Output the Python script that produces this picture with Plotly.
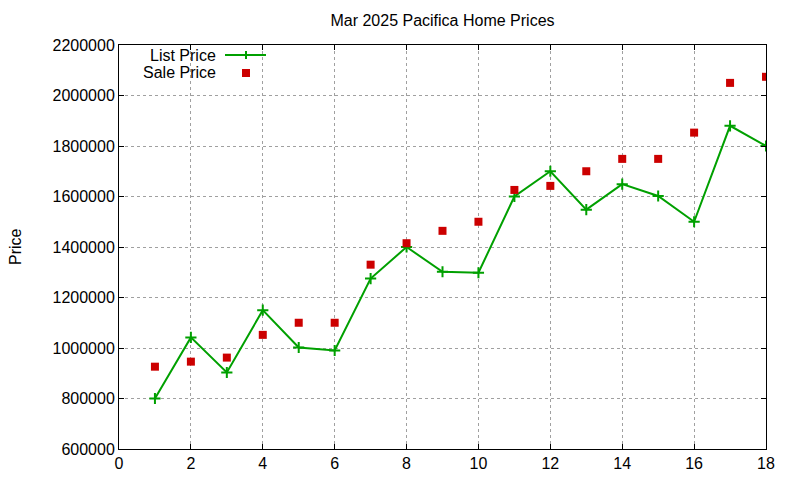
import plotly.graph_objects as go

# data
months = list(range(1, 19))
list_price = [800000, 1042000, 903000, 1150000, 1002000, 990000, 1275000, 1400000, 1302000,
              1298000, 1600000, 1700000, 1548000, 1649000, 1602000, 1500000, 1880000, 1800000]
sale_price = [926000, 946000, 962000, 1052000, 1100000, 1100000, 1330000, 1415000, 1464000,
              1500000, 1626000, 1642000, 1700000, 1749000, 1749000, 1853000, 2050000, 2074000]

x_ticks = list(range(0, 20, 2))
y_ticks = list(range(600000, 2200001, 200000))

GREEN = "#00a000"
RED = "#cc0000"
FONT = "Liberation Sans, Arial, sans-serif"

# the page body has an 8px margin, so the figure is drawn 8px in from the top-left
OFF = 8
W, H = 800 - OFF, 480 - OFF
# plot area in page pixels
L, R, T, B = 119, 766, 45, 449
KEY1, KEY2 = 55, 73  # key rows (page y)


def px(x):
    return (x - L) / (R - L)


def py(y):
    return (B - y) / (B - T)


fig = go.Figure()

fig.add_trace(go.Scatter(
    x=months, y=list_price, mode="lines+markers", name="List Price",
    line=dict(color=GREEN, width=2),
    marker=dict(symbol="cross-thin", size=8, line=dict(color=GREEN, width=2)),
))
fig.add_trace(go.Scatter(
    x=months, y=sale_price, mode="markers", name="Sale Price",
    marker=dict(symbol="square", size=8, color=RED),
))

# gnuplot-style key: text on the left, sample on the right
key_shapes = [
    dict(type="line", xref="paper", yref="paper", x0=px(225), x1=px(266), y0=py(KEY1), y1=py(KEY1),
         line=dict(color=GREEN, width=2)),
    dict(type="line", xref="paper", yref="paper", x0=px(246), x1=px(246), y0=py(KEY1 - 4), y1=py(KEY1 + 4),
         line=dict(color=GREEN, width=2)),
    dict(type="rect", xref="paper", yref="paper", x0=px(242), x1=px(250), y0=py(KEY2 - 4), y1=py(KEY2 + 4),
         fillcolor=RED, line=dict(width=0)),
]

annotations = [
    dict(text="List Price", xref="paper", yref="paper", x=px(218), y=py(KEY1),
         xanchor="right", yanchor="middle", showarrow=False, font=dict(size=16, color="black")),
    dict(text="Sale Price", xref="paper", yref="paper", x=px(218), y=py(KEY2),
         xanchor="right", yanchor="middle", showarrow=False, font=dict(size=16, color="black")),
    dict(text="Price", xref="paper", yref="paper", x=px(15), y=py(247), textangle=-90,
         xanchor="center", yanchor="middle", showarrow=False, font=dict(size=16, color="black")),
]

axis_common = dict(
    showline=True, linecolor="black", linewidth=1, mirror="ticks",
    ticks="inside", ticklen=5, tickcolor="black",
    showgrid=True, gridcolor="#a0a0a0", griddash="dot", gridwidth=1,
    zeroline=False, automargin=False, tickfont=dict(size=16, color="black"),
)

fig.update_layout(
    width=W, height=H,
    margin=dict(l=L - OFF, r=800 - R, t=T - OFF, b=480 - B),
    paper_bgcolor="white", plot_bgcolor="white",
    font=dict(family=FONT, size=16, color="black"),
    title=dict(text="Mar 2025 Pacifica Home Prices", x=0.5, xref="paper", xanchor="center",
               y=1 - (20 - OFF) / H, yanchor="middle", font=dict(size=16, color="black")),
    showlegend=False,
    shapes=key_shapes,
    annotations=annotations,
    xaxis=dict(range=[0, 18], tickvals=x_ticks, **axis_common),
    yaxis=dict(range=[600000, 2200000], tickvals=y_ticks, tickformat="d", **axis_common),
)

fig.write_html("out.html")
